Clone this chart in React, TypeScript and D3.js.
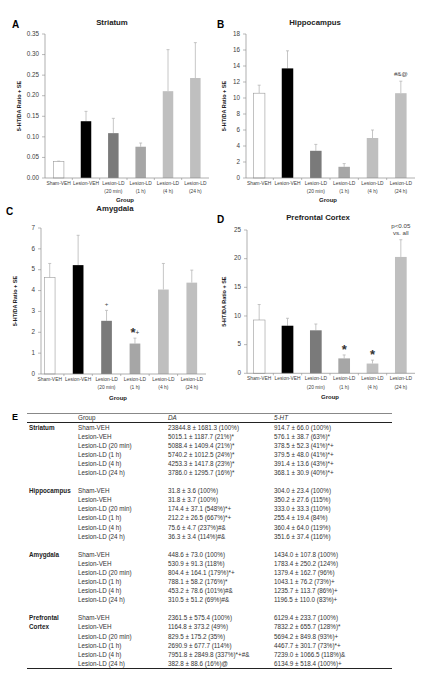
import React from "react";
import * as d3 from "d3";

const groups = ["Sham-VEH", "Lesion-VEH", "Lesion-LD (20 min)", "Lesion-LD (1 h)", "Lesion-LD (4 h)", "Lesion-LD (24 h)"];
const groupLine1 = ["Sham-VEH", "Lesion-VEH", "Lesion-LD", "Lesion-LD", "Lesion-LD", "Lesion-LD"];
const groupLine2 = ["", "", "(20 min)", "(1 h)", "(4 h)", "(24 h)"];
const barColors = ["#ffffff", "#000000", "#7a7a7a", "#a6a6a6", "#bfbfbf", "#bfbfbf"];

const striatumMean = [0.040, 0.138, 0.109, 0.076, 0.211, 0.243];
const striatumSE = [0.001, 0.024, 0.036, 0.009, 0.101, 0.086];
const hippoMean = [10.6, 13.7, 3.4, 1.4, 5.0, 10.6];
const hippoSE = [1.0, 2.2, 0.8, 0.4, 1.0, 1.5];
const amygMean = [4.62, 5.22, 2.55, 1.46, 4.05, 4.38];
const amygSE = [0.68, 1.43, 0.5, 0.26, 1.25, 0.6];
const pfcMean = [9.3, 8.3, 7.5, 2.6, 1.7, 20.3];
const pfcSE = [2.7, 1.3, 1.1, 0.6, 0.6, 3.0];

const hippoNotes = [{ i: 5, lines: ["#&@"], big: false }];
const amygNotes = [{ i: 2, lines: ["+"], big: false }, { i: 3, lines: ["*+"], big: true }];
const pfcNotes = [{ i: 3, lines: ["*"], big: true }, { i: 4, lines: ["*"], big: true }, { i: 5, lines: ["p<0.05", "vs. all"], big: false }];

const tableRegions = ["Striatum", "Hippocampus", "Amygdala", "Prefrontal Cortex"];
const daStriatum = ["23844.8 ± 1681.3 (100%)", "5015.1 ± 1187.7 (21%)*", "5088.4 ± 1409.4 (21%)*", "5740.2 ± 1012.5 (24%)*", "4253.3 ± 1417.8 (23%)*", "3786.0 ± 1295.7 (16%)*"];
const htStriatum = ["914.7 ± 66.0 (100%)", "576.1 ± 38.7 (63%)*", "378.5 ± 52.3 (41%)*+", "379.5 ± 48.0 (41%)*+", "391.4 ± 13.6 (43%)*+", "368.1 ± 30.9 (40%)*+"];
const daHippo = ["31.8 ± 3.6 (100%)", "31.8 ± 3.7 (100%)", "174.4 ± 37.1 (548%)*+", "212.2 ± 26.5 (667%)*+", "75.6 ± 4.7 (237%)#&", "36.3 ± 3.4 (114%)#&"];
const htHippo = ["304.0 ± 23.4 (100%)", "350.2 ± 27.6 (115%)", "333.0 ± 33.3 (110%)", "255.4 ± 19.4 (84%)", "360.4 ± 64.0 (119%)", "351.6 ± 37.4 (116%)"];
const daAmyg = ["448.6 ± 73.0 (100%)", "530.9 ± 91.3 (118%)", "804.4 ± 164.1 (179%)*+", "788.1 ± 58.2 (176%)*", "453.2 ± 78.6 (101%)#&", "310.5 ± 51.2 (69%)#&"];
const htAmyg = ["1434.0 ± 107.8 (100%)", "1783.4 ± 250.2 (124%)", "1379.4 ± 162.7 (96%)", "1043.1 ± 76.2 (73%)+", "1235.7 ± 113.7 (86%)+", "1196.5 ± 110.0 (83%)+"];
const daPfc = ["2361.5 ± 575.4 (100%)", "1164.8 ± 373.2 (49%)", "829.5 ± 175.2 (35%)", "2690.9 ± 677.7 (114%)", "7951.8 ± 2849.8 (337%)*+#&", "382.8 ± 88.6 (16%)@"];
const htPfc = ["6129.4 ± 233.7 (100%)", "7832.2 ± 655.7 (128%)*", "5694.2 ± 849.8 (93%)+", "4467.7 ± 301.7 (73%)*+", "7239.0 ± 1066.5 (118%)&", "6134.9 ± 518.4 (100%)+"];

const FONT = "'Liberation Sans', Arial, sans-serif";

type Note = { i: number; lines: string[]; big: boolean };
type PanelProps = {
  letter: string; title: string; mean: number[]; se: number[]; notes: Note[];
  axisX: number; bandRange: [number, number]; yTop: number; yBot: number; yMax: number; step: number; fmt: string; barW: number;
  titleX: number; titleY: number; letterX: number; letterY: number; yTitleX: number; groupX: number; groupY: number;
};

function Panel(p: PanelProps) {
  const x = d3.scaleBand<string>().domain(groups).range(p.bandRange).padding(0);
  const y = d3.scaleLinear().domain([0, p.yMax]).range([p.yBot, p.yTop]);
  const ticks = d3.range(0, p.yMax + p.step / 2, p.step);
  const f = d3.format(p.fmt);
  const axisEnd = p.bandRange[1];
  const grey = "#404040";
  return (
    <g>
      <text x={p.letterX} y={p.letterY} fontSize={10} fontWeight="bold" fontFamily={FONT} fill="#000">{p.letter}</text>
      <text x={p.titleX} y={p.titleY} fontSize={7.8} fontWeight="bold" fontFamily={FONT} textAnchor="middle" dominantBaseline="middle" fill="#222">{p.title}</text>
      {groups.map((g, i) => {
        const cx = x(g)! + x.bandwidth() / 2;
        const top = y(p.mean[i] + p.se[i]);
        return (
          <g key={g}>
            <line x1={cx} x2={cx} y1={y(p.mean[i])} y2={top} stroke="#b8b8b8" strokeWidth={0.8} />
            <line x1={cx - 1.5} x2={cx + 1.5} y1={top} y2={top} stroke="#b8b8b8" strokeWidth={0.8} />
            <rect x={cx - p.barW / 2} y={y(p.mean[i])} width={p.barW} height={p.yBot - y(p.mean[i])}
              fill={barColors[i]} stroke={i === 0 ? "#9a9a9a" : "none"} strokeWidth={0.6} />
          </g>
        );
      })}
      <line x1={p.axisX} x2={p.axisX} y1={p.yTop} y2={p.yBot} stroke="#8c8c8c" strokeWidth={0.7} />
      <line x1={p.axisX} x2={axisEnd} y1={p.yBot} y2={p.yBot} stroke="#8c8c8c" strokeWidth={0.7} />
      {groups.map((g, i) => (
        i > 0 ? <line key={"xt" + g} x1={x(g)!} x2={x(g)!} y1={p.yBot} y2={p.yBot + 2} stroke="#8c8c8c" strokeWidth={0.6} /> : null
      ))}
      {ticks.map((t) => (
        <g key={"t" + t}>
          <line x1={p.axisX - 3} x2={p.axisX} y1={y(t)} y2={y(t)} stroke="#8c8c8c" strokeWidth={0.6} />
          <text x={p.axisX - 6} y={y(t)} fontSize={6.3} fontFamily={FONT} textAnchor="end" dominantBaseline="middle" fill={grey}>{f(t)}</text>
        </g>
      ))}
      {groups.map((g, i) => {
        const cx = x(g)! + x.bandwidth() / 2;
        return (
          <g key={"l" + g}>
            <text x={cx} y={p.yBot + 5.5} fontSize={4.9} fontFamily={FONT} textAnchor="middle" dominantBaseline="middle" fill={grey}>{groupLine1[i]}</text>
            {groupLine2[i] ? <text x={cx} y={p.yBot + 14} fontSize={4.9} fontFamily={FONT} textAnchor="middle" dominantBaseline="middle" fill={grey}>{groupLine2[i]}</text> : null}
          </g>
        );
      })}
      <text x={p.groupX} y={p.groupY} fontSize={6} fontWeight="bold" fontFamily={FONT} textAnchor="middle" dominantBaseline="middle" fill="#222">Group</text>
      <text transform={`translate(${p.yTitleX},${(p.yTop + p.yBot) / 2}) rotate(-90)`} fontSize={5.5} fontWeight="bold" fontFamily={FONT} textAnchor="middle" dominantBaseline="middle" fill="#222">5-HT/DA Ratio + SE</text>
      {p.notes.map((n) => {
        const cx = x(groups[n.i])! + x.bandwidth() / 2;
        const top = y(p.mean[n.i] + p.se[n.i]);
        const lh = 6.8;
        return n.lines.map((ln, k) => {
          const yy = top - 6.5 - (n.lines.length - 1 - k) * lh;
          if (n.big) {
            const parts = ln.split("");
            return (
              <text key={"n" + n.i + k} x={cx} y={yy} textAnchor="middle" dominantBaseline="middle" fontFamily={FONT} fill="#333">
                {parts.map((c, j) => <tspan key={j} fontSize={c === "*" ? 13 : 6.5} fontWeight={c === "*" ? "bold" : "normal"} dy={c === "*" ? 2.5 : -1.5}>{c}</tspan>)}
              </text>
            );
          }
          return <text key={"n" + n.i + k} x={cx} y={yy} fontSize={6.2} fontFamily={FONT} textAnchor="middle" dominantBaseline="middle" fill="#444">{ln}</text>;
        });
      })}
    </g>
  );
}

function Table() {
  const daAll = [daStriatum, daHippo, daAmyg, daPfc];
  const htAll = [htStriatum, htHippo, htAmyg, htPfc];
  const rowY = (i: number) => 428 + i * 9.08;
  const fs = 6.3;
  const c = "#333";
  return (
    <g fontFamily={FONT}>
      <text x={12} y={420} fontSize={9} fontWeight="bold" fill="#000">E</text>
      <line x1={27} x2={392} y1={413.5} y2={413.5} stroke="#555" strokeWidth={0.7} />
      <text x={78} y={418.5} fontSize={fs} fill={c} dominantBaseline="middle">Group</text>
      <text x={168} y={418.5} fontSize={fs} fill={c} fontStyle="italic" dominantBaseline="middle">DA</text>
      <text x={274} y={418.5} fontSize={fs} fill={c} fontStyle="italic" dominantBaseline="middle">5-HT</text>
      <line x1={27} x2={392} y1={422.5} y2={422.5} stroke="#222" strokeWidth={1} />
      {tableRegions.map((r, s) => {
        const base = s * 7;
        const lbl = r === "Prefrontal Cortex" ? ["Prefrontal", "Cortex"] : [r];
        return (
          <g key={r}>
            {lbl.map((l, k) => (
              <text key={l} x={29} y={rowY(base + k)} fontSize={fs} fontWeight="bold" fill="#222" dominantBaseline="middle">{l}</text>
            ))}
            {groups.map((g, i) => (
              <g key={g}>
                <text x={78} y={rowY(base + i)} fontSize={fs} fill={c} dominantBaseline="middle">{g}</text>
                <text x={168} y={rowY(base + i)} fontSize={fs} fill={c} dominantBaseline="middle">{daAll[s][i]}</text>
                <text x={274} y={rowY(base + i)} fontSize={fs} fill={c} dominantBaseline="middle">{htAll[s][i]}</text>
              </g>
            ))}
          </g>
        );
      })}
      <line x1={27} x2={392} y1={668.5} y2={668.5} stroke="#222" strokeWidth={1} />
    </g>
  );
}

export default function App() {
  return (
    <svg width={433} height={682} style={{ position: "absolute", left: 0, top: 0, background: "#fff" }}>
      <rect x={0} y={0} width={433} height={682} fill="#fff" />
      <Panel letter="A" title="Striatum" mean={striatumMean} se={striatumSE} notes={[]}
        axisX={45} bandRange={[45, 209]} yTop={34} yBot={178} yMax={0.35} step={0.05} fmt=".2f" barW={10.5}
        titleX={112} titleY={23} letterX={12} letterY={28} yTitleX={20} groupX={125} groupY={200} />
      <Panel letter="B" title="Hippocampus" mean={hippoMean} se={hippoSE} notes={hippoNotes}
        axisX={246} bandRange={[245, 415]} yTop={34} yBot={178} yMax={18} step={2} fmt="d" barW={11.5}
        titleX={315} titleY={23} letterX={217} letterY={28} yTitleX={225} groupX={328} groupY={200} />
      <Panel letter="C" title="Amygdala" mean={amygMean} se={amygSE} notes={amygNotes}
        axisX={41} bandRange={[35.5, 206]} yTop={228} yBot={374} yMax={7} step={1} fmt="d" barW={10.7}
        titleX={115} titleY={209} letterX={6} letterY={215} yTitleX={16} groupX={118} groupY={398} />
      <Panel letter="D" title="Prefrontal Cortex" mean={pfcMean} se={pfcSE} notes={pfcNotes}
        axisX={247} bandRange={[245, 415]} yTop={230} yBot={373.3} yMax={25} step={5} fmt="d" barW={11.7}
        titleX={318} titleY={218} letterX={217} letterY={223} yTitleX={225} groupX={330} groupY={397} />
      <Table />
    </svg>
  );
}
